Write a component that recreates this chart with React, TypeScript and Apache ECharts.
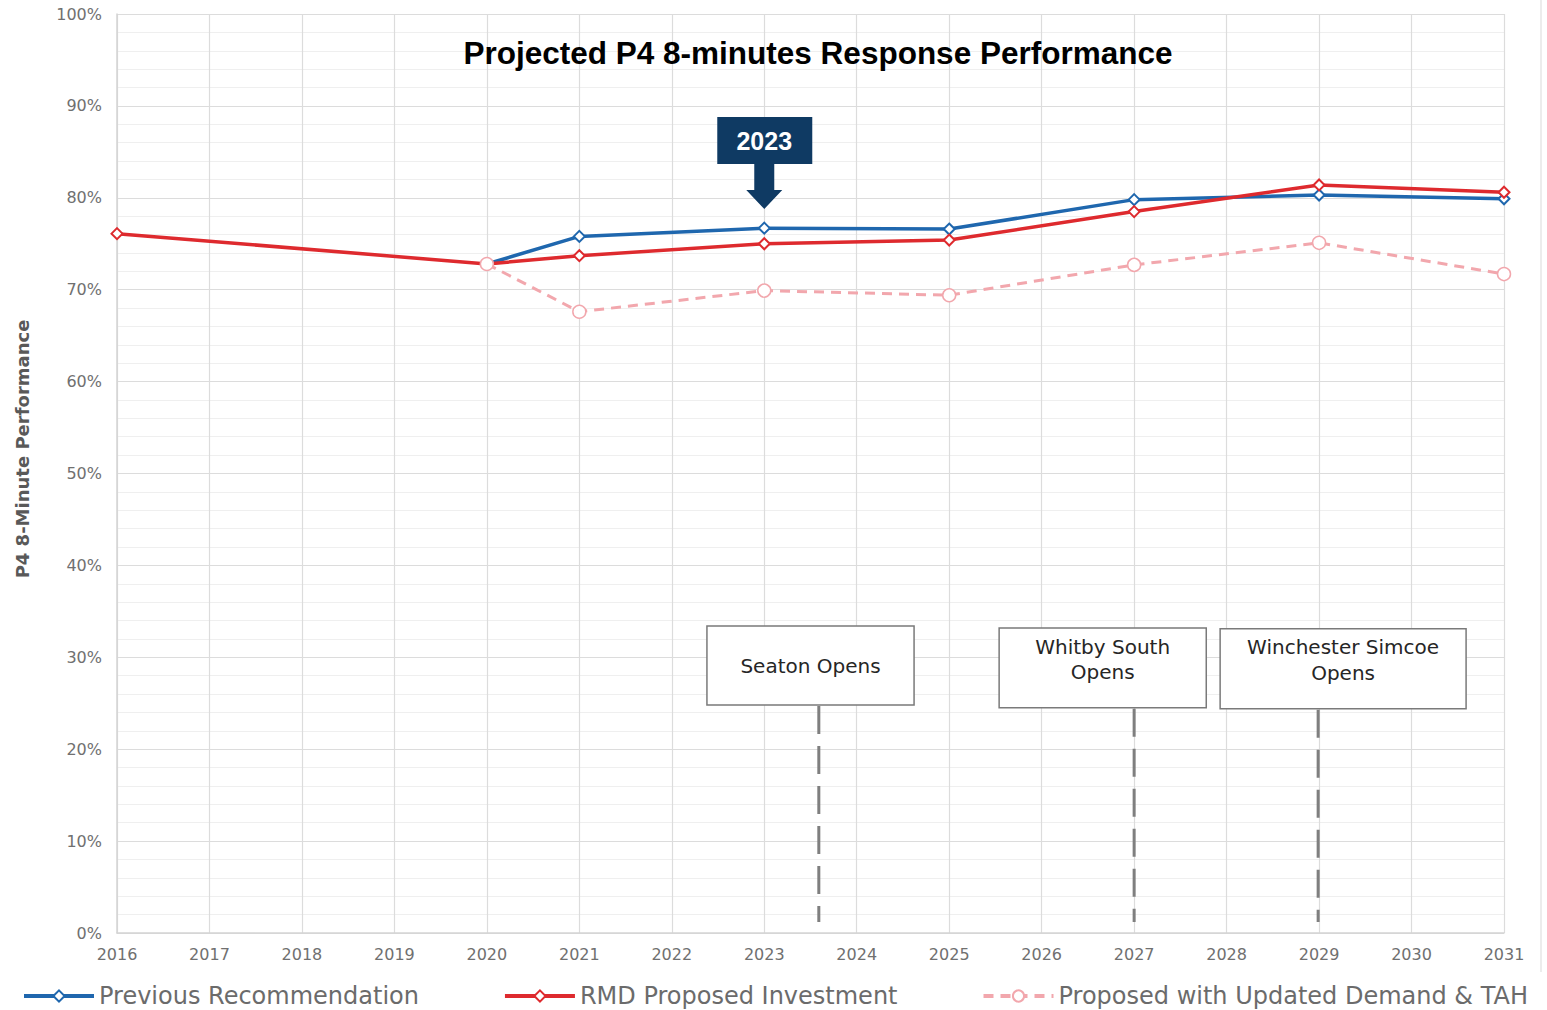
import React, { useEffect, useRef } from "react";
import * as echarts from "echarts";

// ---- data ----
const prevYears = [2020, 2021, 2023, 2025, 2027, 2029, 2031];
const prevValues = [72.8, 75.8, 76.7, 76.6, 79.8, 80.3, 79.9];
const rmdYears = [2016, 2020, 2021, 2023, 2025, 2027, 2029, 2031];
const rmdValues = [76.1, 72.8, 73.7, 75.0, 75.4, 78.5, 81.4, 80.6];
const updYears = [2020, 2021, 2023, 2025, 2027, 2029, 2031];
const updValues = [72.8, 67.6, 69.9, 69.4, 72.7, 75.1, 71.7];
const seriesNames = [
  "Previous Recommendation",
  "RMD Proposed Investment",
  "Proposed with Updated Demand & TAH",
];
const annotationLabels = ["Seaton Opens", "Whitby South\nOpens", "Winchester Simcoe\nOpens"];
const annotationYears = [2023.59, 2027.0, 2028.99];
const highlightYear = 2023;
const titleText = "Projected P4 8-minutes Response Performance";
const yAxisTitle = "P4 8-Minute Performance";

// ---- layout (data coordinates for annotation boxes) ----
const boxLayout = [
  { x1: 2022.38, x2: 2024.62, yTop: 33.4, yBot: 24.8, textY: [29.1] },
  { x1: 2025.54, x2: 2027.78, yTop: 33.2, yBot: 24.5, textY: [31.1, 28.4] },
  { x1: 2027.93, x2: 2030.59, yTop: 33.1, yBot: 24.4, textY: [31.1, 28.3] },
];
const dashBottom = 1.2;

const FONT = "DejaVu Sans";

function zip(xs: number[], ys: number[]) {
  return xs.map((x, i) => [x, ys[i]]);
}

export default function App() {
  const ref = useRef<HTMLDivElement>(null);
  useEffect(() => {
    document.body.style.margin = "0";
    const chart = echarts.init(ref.current!, null, { renderer: "svg" });
    const option: any = {
      animation: false,
      backgroundColor: "#ffffff",
      grid: { left: 117, right: 43, top: 14, bottom: 77 },
      title: {
        text: titleText,
        left: 813,
        textAlign: "center",
        top: 32,
        textStyle: {
          fontFamily: "Liberation Sans",
          fontWeight: "bold",
          fontSize: 31.5,
          color: "#000000",
        },
      },
      legend: {
        bottom: 1,
        left: 22,
        padding: [0, 0, 0, 0],
        itemWidth: 70,
        itemHeight: 14,
        itemGap: 84,
        lineStyle: { width: 4 },
        textStyle: { fontFamily: FONT, fontSize: 24, lineHeight: 26, color: "#6b6b6b" },
        data: seriesNames,
      },
      xAxis: {
        type: "value",
        min: 2016,
        max: 2031,
        interval: 1,
        axisLine: { show: true, lineStyle: { color: "#d4d4d4", width: 1.5 } },
        axisTick: { show: false },
        axisLabel: {
          formatter: (v: number) => String(v),
          fontFamily: FONT,
          fontSize: 16,
          color: "#707070",
          margin: 13,
        },
        splitLine: { show: true, lineStyle: { color: "#dcdcdc", width: 1.2 } },
      },
      yAxis: {
        type: "value",
        min: 0,
        max: 100,
        interval: 10,
        axisLine: { show: true, lineStyle: { color: "#d4d4d4", width: 1.5 } },
        axisTick: { show: false },
        axisLabel: {
          formatter: (v: number) => `${v}%`,
          fontFamily: FONT,
          fontSize: 16,
          color: "#707070",
          margin: 15,
        },
        splitLine: { show: true, lineStyle: { color: "#dcdcdc", width: 1.2 } },
        minorTick: { show: false, splitNumber: 5 },
        minorSplitLine: { show: true, lineStyle: { color: "#efefef", width: 1 } },
      },
      series: [
        {
          name: seriesNames[0],
          type: "line",
          data: zip(prevYears, prevValues),
          symbol: "diamond",
          symbolSize: 11,
          lineStyle: { color: "#1f67ae", width: 3.5 },
          itemStyle: { color: "#ffffff", borderColor: "#1f67ae", borderWidth: 2 },
          z: 3,
        },
        {
          name: seriesNames[1],
          type: "line",
          data: zip(rmdYears, rmdValues),
          symbol: "diamond",
          symbolSize: 11,
          lineStyle: { color: "#de2a2e", width: 3.5 },
          itemStyle: { color: "#ffffff", borderColor: "#de2a2e", borderWidth: 2 },
          z: 4,
        },
        {
          name: seriesNames[2],
          type: "line",
          data: zip(updYears, updValues),
          symbol: "circle",
          symbolSize: 13,
          lineStyle: { color: "#f2a7ad", width: 3, type: [10, 7] },
          itemStyle: { color: "#ffffff", borderColor: "#f2a7ad", borderWidth: 1.5 },
          z: 5,
        },
      ],
    };
    chart.setOption(option);

    const px = (x: number, y: number) => chart.convertToPixel({ gridIndex: 0 }, [x, y]) as number[];
    const graphics: any[] = [];

    // y-axis title
    graphics.push({
      type: "text",
      x: 22,
      y: 449,
      rotation: Math.PI / 2,
      style: {
        text: yAxisTitle,
        fontFamily: FONT,
        fontWeight: "bold",
        fontSize: 18,
        fill: "#595959",
        textAlign: "center",
        textVerticalAlign: "middle",
      },
    });

    // right-edge faint frame line
    graphics.push({
      type: "line",
      shape: { x1: 1541, y1: 0, x2: 1541, y2: 972 },
      style: { stroke: "#e6e6e6", lineWidth: 1.5 },
    });

    // annotation boxes and dashed lines
    boxLayout.forEach((b, i) => {
      const p1 = px(b.x1, b.yTop);
      const p2 = px(b.x2, b.yBot);
      const lineTop = px(annotationYears[i], b.yBot);
      const lineBot = px(annotationYears[i], dashBottom);
      graphics.push({
        type: "line",
        z: 50,
        shape: { x1: lineTop[0], y1: lineTop[1] + 1, x2: lineBot[0], y2: lineBot[1] },
        style: { stroke: "#7f7f7f", lineWidth: 3, lineDash: [28, 12] },
      });
      graphics.push({
        type: "rect",
        z: 51,
        shape: { x: p1[0], y: p1[1], width: p2[0] - p1[0], height: p2[1] - p1[1] },
        style: { fill: "#ffffff", stroke: "#7a7a7a", lineWidth: 1.5 },
      });
      const lines = annotationLabels[i].split("\n");
      lines.forEach((t, j) => {
        const cy = px(b.x1, b.textY[j])[1];
        graphics.push({
          type: "text",
          z: 52,
          x: (p1[0] + p2[0]) / 2,
          y: cy,
          style: {
            text: t,
            fontFamily: FONT,
            fontSize: 20,
            fill: "#262626",
            textAlign: "center",
            textVerticalAlign: "middle",
          },
        });
      });
    });

    // "2023" callout with arrow
    const hx = px(highlightYear, 0)[0];
    const navy = "#0f3a63";
    graphics.push({
      type: "rect",
      z: 60,
      shape: { x: hx - 47, y: 117, width: 95, height: 47 },
      style: { fill: navy },
    });
    graphics.push({
      type: "polygon",
      z: 60,
      shape: {
        points: [
          [hx - 10, 163],
          [hx + 10, 163],
          [hx + 10, 190],
          [hx + 18, 190],
          [hx, 209],
          [hx - 18, 190],
          [hx - 10, 190],
        ],
      },
      style: { fill: navy },
    });
    graphics.push({
      type: "text",
      z: 61,
      x: hx,
      y: 141,
      style: {
        text: String(highlightYear),
        fontFamily: "Liberation Sans",
        fontWeight: "bold",
        fontSize: 25,
        fill: "#ffffff",
        textAlign: "center",
        textVerticalAlign: "middle",
      },
    });

    chart.setOption({ graphic: graphics });
    return () => chart.dispose();
  }, []);
  return <div ref={ref} style={{ width: 1547, height: 1010 }} />;
}
